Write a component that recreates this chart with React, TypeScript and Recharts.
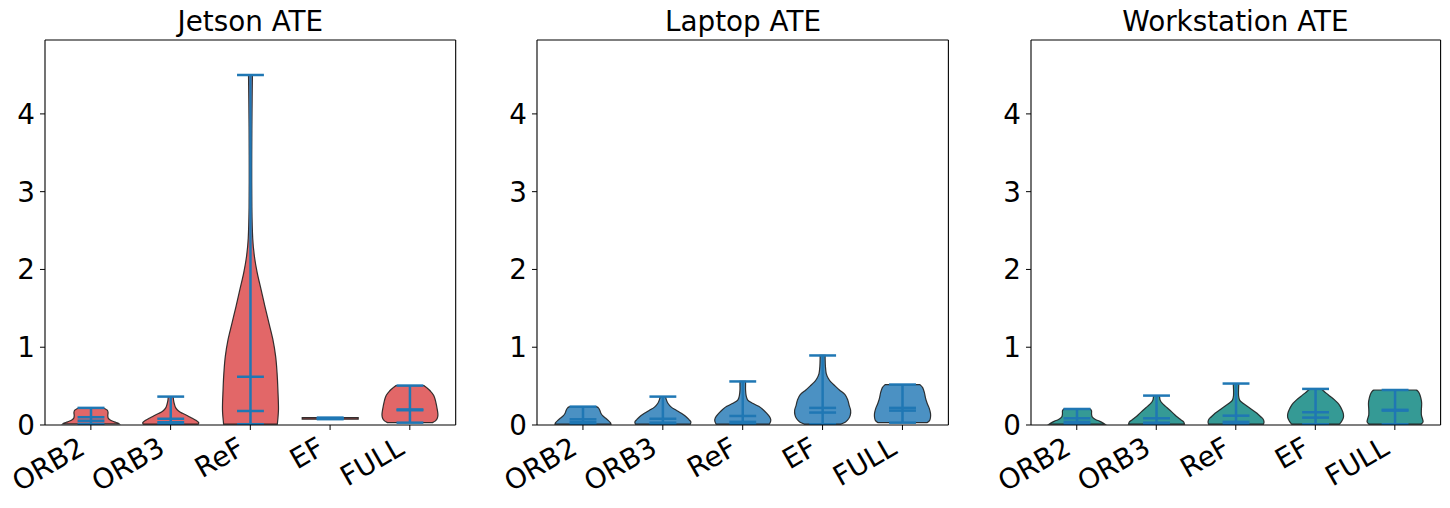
import React from 'react';
import { ComposedChart, Bar, XAxis, YAxis } from 'recharts';

// ---- data ----
const categories = ['ORB2', 'ORB3', 'ReF', 'EF', 'FULL'];
const yTicks = [0, 1, 2, 3, 4];
const yMax = 4.95;

const jetsonMin = [0.015, 0.01, 0.01, 0.075, 0.03];
const jetsonMax = [0.22, 0.365, 4.5, 0.095, 0.507];
const jetsonMean = [0.1, 0.08, 0.62, 0.085, 0.2];
const jetsonMedian = [0.055, 0.035, 0.18, 0.085, 0.19];

const laptopMin = [0.01, 0.01, 0.01, 0.01, 0.03];
const laptopMax = [0.236, 0.365, 0.56, 0.894, 0.52];
const laptopMean = [0.073, 0.08, 0.116, 0.22, 0.22];
const laptopMedian = [0.035, 0.03, 0.04, 0.16, 0.185];

const workMin = [0.01, 0.01, 0.01, 0.01, 0.01];
const workMax = [0.206, 0.378, 0.533, 0.464, 0.45];
const workMean = [0.086, 0.086, 0.12, 0.164, 0.195];
const workMedian = [0.04, 0.03, 0.04, 0.095, 0.185];

// violin outlines: [value, relative half-width]
const jORB2 = [[0.015, 1.0], [0.025, 0.96], [0.04, 0.84], [0.06, 0.7], [0.085, 0.62], [0.12, 0.6], [0.16, 0.61], [0.19, 0.58], [0.21, 0.5], [0.22, 0.42]];
const jORB3 = [[0.01, 0.98], [0.03, 1.0], [0.06, 0.9], [0.09, 0.75], [0.12, 0.6], [0.15, 0.42], [0.18, 0.28], [0.22, 0.18], [0.27, 0.13], [0.32, 0.1], [0.365, 0.09]];
const jReF = [[0.01, 0.96], [0.2, 1.0], [0.45, 0.98], [0.67, 0.95], [0.88, 0.9], [1.1, 0.8], [1.31, 0.66], [1.52, 0.52], [1.74, 0.38], [1.96, 0.24], [2.17, 0.14], [2.4, 0.08], [2.8, 0.05], [3.3, 0.045], [3.8, 0.05], [4.2, 0.06], [4.5, 0.07]];
const jEF = [[0.075, 1.0], [0.095, 1.0]];
const jFULL = [[0.03, 0.8], [0.05, 0.9], [0.08, 0.97], [0.13, 1.0], [0.19, 0.98], [0.3, 0.92], [0.38, 0.85], [0.44, 0.72], [0.48, 0.6], [0.507, 0.5]];

const lORB2 = [[0.01, 1.0], [0.03, 0.98], [0.06, 0.9], [0.09, 0.8], [0.12, 0.7], [0.15, 0.64], [0.19, 0.6], [0.22, 0.55], [0.236, 0.48]];
const lORB3 = [[0.01, 0.98], [0.04, 1.0], [0.07, 0.93], [0.107, 0.83], [0.15, 0.66], [0.19, 0.48], [0.23, 0.3], [0.28, 0.18], [0.33, 0.12], [0.365, 0.1]];
const lReF = [[0.01, 0.95], [0.04, 0.99], [0.07, 1.0], [0.11, 0.95], [0.15, 0.86], [0.2, 0.72], [0.24, 0.57], [0.28, 0.35], [0.32, 0.18], [0.38, 0.12], [0.45, 0.1], [0.52, 0.1], [0.56, 0.1]];
const lEF = [[0.01, 0.65], [0.04, 0.82], [0.08, 0.93], [0.13, 0.99], [0.19, 1.0], [0.25, 0.95], [0.32, 0.9], [0.39, 0.8], [0.45, 0.6], [0.5, 0.45], [0.55, 0.3], [0.6, 0.2], [0.66, 0.13], [0.75, 0.1], [0.85, 0.09], [0.894, 0.09]];
const lFULL = [[0.03, 0.88], [0.06, 0.97], [0.1, 1.0], [0.15, 1.0], [0.22, 0.95], [0.28, 0.88], [0.35, 0.82], [0.42, 0.78], [0.48, 0.72], [0.52, 0.62]];

const wORB2 = [[0.01, 1.0], [0.03, 0.92], [0.05, 0.8], [0.07, 0.66], [0.1, 0.55], [0.14, 0.52], [0.18, 0.52], [0.206, 0.48]];
const wORB3 = [[0.01, 1.0], [0.04, 0.97], [0.07, 0.86], [0.11, 0.72], [0.15, 0.6], [0.2, 0.45], [0.24, 0.32], [0.28, 0.2], [0.32, 0.13], [0.36, 0.11], [0.378, 0.1]];
const wReF = [[0.01, 0.98], [0.04, 1.0], [0.08, 0.96], [0.11, 0.87], [0.15, 0.75], [0.19, 0.6], [0.24, 0.4], [0.28, 0.25], [0.32, 0.13], [0.38, 0.09], [0.46, 0.09], [0.533, 0.1]];
const wEF = [[0.01, 0.85], [0.04, 0.92], [0.08, 0.98], [0.11, 1.0], [0.15, 0.99], [0.19, 0.95], [0.24, 0.88], [0.28, 0.8], [0.33, 0.66], [0.37, 0.52], [0.41, 0.38], [0.44, 0.28], [0.464, 0.2]];
const wFULL = [[0.01, 0.93], [0.04, 1.0], [0.08, 0.98], [0.13, 0.94], [0.2, 0.94], [0.28, 0.95], [0.35, 0.92], [0.41, 0.86], [0.44, 0.8], [0.45, 0.75]];

const jetsonProfiles = [jORB2, jORB3, jReF, jEF, jFULL];
const laptopProfiles = [lORB2, lORB3, lReF, lEF, lFULL];
const workProfiles = [wORB2, wORB3, wReF, wEF, wFULL];

// ---- helpers ----
const FONT = 'DejaVu Sans';
const FS = 27.8;
const STAT = '#1f77b4';

function buildRows(mins: number[], maxs: number[], means: number[], medians: number[], profiles: number[][][]) {
  return categories.map((name, i) => ({
    name,
    range: [mins[i], maxs[i]],
    mean: means[i],
    median: medians[i],
    profile: profiles[i],
  }));
}

function catmull(pts: [number, number][]) {
  let d = '';
  const n = pts.length;
  for (let i = 0; i < n - 1; i++) {
    const p0 = pts[Math.max(i - 1, 0)];
    const p1 = pts[i];
    const p2 = pts[i + 1];
    const p3 = pts[Math.min(i + 2, n - 1)];
    const c1x = p1[0] + (p2[0] - p0[0]) / 6;
    const c1y = p1[1] + (p2[1] - p0[1]) / 6;
    const c2x = p2[0] - (p3[0] - p1[0]) / 6;
    const c2y = p2[1] - (p3[1] - p1[1]) / 6;
    d += ` C${c1x},${c1y} ${c2x},${c2y} ${p2[0]},${p2[1]}`;
  }
  return d;
}

function makeViolin(fill: string) {
  return (props: any) => {
    const { x, y, width, height, payload } = props;
    if (x == null || y == null || !payload) return <g />;
    const top = Math.min(y, y + height);
    const bot = Math.max(y, y + height);
    const [lo, hi] = payload.range;
    const span = hi - lo || 1;
    const py = (v: number) => bot - ((v - lo) / span) * (bot - top);
    const cx = x + width / 2;
    const hw = width / 2;
    const prof: number[][] = payload.profile;
    const right: [number, number][] = prof.map(([v, r]) => [cx + r * hw, py(v)]);
    const left: [number, number][] = prof.map(([v, r]) => [cx - r * hw, py(v)]).reverse() as [number, number][];
    let d = `M${left[left.length - 1][0]},${left[left.length - 1][1]} L${right[0][0]},${right[0][1]}`;
    d += catmull(right);
    d += ` L${left[0][0]},${left[0][1]}`;
    d += catmull(left);
    d += ' Z';
    const cap = width * 0.24;
    const lines = [hi, lo, payload.mean, payload.median];
    return (
      <g>
        <path d={d} fill={fill} stroke="#1f1f1f" strokeWidth={1.2} strokeOpacity={0.9} />
        <line x1={cx} x2={cx} y1={py(hi)} y2={py(lo)} stroke={STAT} strokeWidth={2.5} />
        {lines.map((v, k) => (
          <line key={k} x1={cx - cap} x2={cx + cap} y1={py(v)} y2={py(v)} stroke={STAT} strokeWidth={2.5} />
        ))}
      </g>
    );
  };
}

const XTick = (props: any) => {
  const { x, y, payload } = props;
  const px = x - 4;
  const py = y + 23;
  return (
    <text x={px} y={py} transform={`rotate(-30 ${px} ${py})`} textAnchor="end" fontSize={FS} fontFamily={FONT} fill="#000">
      {payload.value}
    </text>
  );
};

const PLOT_TOP = 40;
const PLOT_BOTTOM = 425;
const H = 508;

function Panel({ title, rows, fill, plotLeft, plotW }: any) {
  const ml = 45;
  const mr = 4;
  const chartW = plotW + ml + mr;
  return (
    <>
      <div
        style={{
          position: 'absolute',
          left: plotLeft,
          top: 8.2,
          width: plotW,
          textAlign: 'center',
          fontFamily: FONT,
          fontSize: FS,
          lineHeight: `${FS}px`,
          color: '#000',
          whiteSpace: 'nowrap',
        }}
      >
        {title}
      </div>
      <div style={{ position: 'absolute', left: plotLeft - ml, top: 0 }}>
        <ComposedChart
          width={chartW}
          height={H}
          data={rows}
          margin={{ top: 0, left: 0, right: 0, bottom: 0 }}
          style={{ fontFamily: FONT }}
        >
          <XAxis
            dataKey="name"
            type="category"
            height={H - PLOT_BOTTOM}
            padding={{ left: 6, right: 6 }}
            tickSize={5}
            tickMargin={0}
            tick={<XTick />}
            tickLine={{ stroke: '#000', strokeWidth: 1 }}
            axisLine={{ stroke: '#000', strokeWidth: 1.1 }}
            interval={0}
          />
          <XAxis
            xAxisId="top"
            dataKey="name"
            orientation="top"
            height={PLOT_TOP}
            tick={false}
            tickLine={false}
            axisLine={{ stroke: '#000', strokeWidth: 1.1 }}
          />
          <YAxis
            type="number"
            domain={[0, yMax]}
            ticks={yTicks}
            width={ml}
            tickSize={5}
            tickMargin={5}
            interval={0}
            tick={{ fontSize: FS, fontFamily: FONT, fill: '#000' }}
            tickLine={{ stroke: '#000', strokeWidth: 1 }}
            axisLine={{ stroke: '#000', strokeWidth: 1.1 }}
            allowDataOverflow
          />
          <YAxis
            yAxisId="right"
            orientation="right"
            type="number"
            domain={[0, yMax]}
            width={mr}
            tick={false}
            tickLine={false}
            axisLine={{ stroke: '#000', strokeWidth: 1.1 }}
          />
          <Bar dataKey="range" barSize={56} shape={makeViolin(fill)} isAnimationActive={false} />
        </ComposedChart>
      </div>
    </>
  );
}

const jetsonRows = buildRows(jetsonMin, jetsonMax, jetsonMean, jetsonMedian, jetsonProfiles);
const laptopRows = buildRows(laptopMin, laptopMax, laptopMean, laptopMedian, laptopProfiles);
const workRows = buildRows(workMin, workMax, workMean, workMedian, workProfiles);

export default function App() {
  return (
    <div style={{ position: 'absolute', left: 0, top: 0, width: 1450, height: 508, overflow: 'hidden', background: '#fff' }}>
      <Panel title="Jetson ATE" rows={jetsonRows} fill="#e26768" plotLeft={45} plotW={410.7} />
      <Panel title="Laptop ATE" rows={laptopRows} fill="#4b91c3" plotLeft={537.3} plotW={411.4} />
      <Panel title="Workstation ATE" rows={workRows} fill="#359a95" plotLeft={1030.7} plotW={409.6} />
    </div>
  );
}
